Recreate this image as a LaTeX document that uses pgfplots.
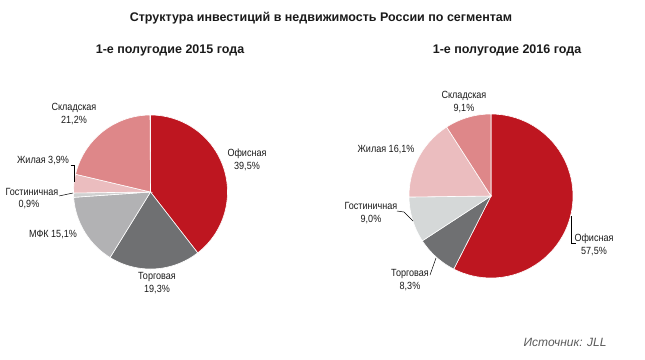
\documentclass[border=0pt]{standalone}
\usepackage{fontspec}
\setmainfont{Liberation Sans}
\newfontfamily\narrowf{Liberation Sans}[FakeStretch=0.87]
\usepackage{pgfplots}
\pgfplotsset{compat=1.18}
\definecolor{cOff}{HTML}{BE1620}
\definecolor{cTrd}{HTML}{6F7072}
\definecolor{cMfk}{HTML}{B2B2B4}
\definecolor{cHotA}{HTML}{D0D0D0}
\definecolor{cHotB}{HTML}{D5D8D8}
\definecolor{cRes}{HTML}{EBBDBF}
\definecolor{cWar}{HTML}{DE8789}
\definecolor{txt}{HTML}{1A1A1A}
% #1 cx, #2 cy, #3 r, #4 cumulative start (%), #5 share (%), #6 colour
\newcommand\slice[6]{%
  \addplot[fill=#6, draw=white, line width=0.6pt, domain={90-3.6*(#4+#5)}:{90-3.6*(#4)}, samples=60, variable=\t]
    ({#1+#3*cos(\t)},{#2-#3*sin(\t)}) -- (axis cs:#1,#2) -- cycle;}
\begin{document}
\begin{tikzpicture}[
  lbl/.style={font=\narrowf\fontsize{10.4}{11.5}\selectfont, text=txt, align=center, inner sep=0pt},
  ttl/.style={font=\bfseries\fontsize{12.5}{14}\selectfont, text=txt, inner sep=0pt}]
\begin{axis}[
  scale only axis, width=645pt, height=359pt,
  xmin=0, xmax=645, ymin=0, ymax=359, y dir=reverse,
  hide axis, clip=false,
]
\path (rel axis cs:0,0) rectangle (rel axis cs:1,1);
% ---- 2015 (shares in %)
\slice{150.5}{192}{77}{0}{39.5}{cOff}
\slice{150.5}{192}{77}{39.5}{19.3}{cTrd}
\slice{150.5}{192}{77}{58.8}{15.1}{cMfk}
\slice{150.5}{192}{77}{73.9}{0.9}{cHotA}
\slice{150.5}{192}{77}{74.8}{3.9}{cRes}
\slice{150.5}{192}{77}{78.7}{21.2}{cWar}
% ---- 2016
\slice{491}{196}{82}{0}{57.5}{cOff}
\slice{491}{196}{82}{57.5}{8.3}{cTrd}
\slice{491}{196}{82}{65.8}{9.0}{cHotB}
\slice{491}{196}{82}{74.8}{16.1}{cRes}
\slice{491}{196}{82}{90.9}{9.1}{cWar}
% leader lines
\addplot[black, line width=0.5pt] coordinates {(70.5,165) (74,165) (74,182)};
\addplot[black, line width=0.5pt] coordinates {(59,196) (73,193)};
\addplot[black, line width=0.5pt] coordinates {(397,211) (404,212) (413,221)};
\addplot[black, line width=0.5pt] coordinates {(430,275) (436,258)};
\addplot[black, line width=0.5pt] coordinates {(571.5,216) (571.5,243) (576,243)};
% titles
\node[ttl] at (axis cs:321,18) {Структура инвестиций в недвижимость России по сегментам};
\node[ttl] at (axis cs:170,50) {1-е полугодие 2015 года};
\node[ttl] at (axis cs:507,50) {1-е полугодие 2016 года};
% labels 2015
\node[lbl] at (axis cs:74,114) {Складская\\[1pt]21,2\%};
\node[lbl] at (axis cs:247,160) {Офисная\\[1pt]39,5\%};
\node[lbl] at (axis cs:43,161) {Жилая 3,9\%};
\node[lbl] at (axis cs:32,192) {Гостиничная};
\node[lbl] at (axis cs:29,205) {0,9\%};
\node[lbl] at (axis cs:53,235) {МФК 15,1\%};
\node[lbl] at (axis cs:157,283) {Торговая\\[1pt]19,3\%};
% labels 2016
\node[lbl] at (axis cs:464,102) {Складская\\[1pt]9,1\%};
\node[lbl] at (axis cs:386,150) {Жилая 16,1\%};
\node[lbl] at (axis cs:371,213) {Гостиничная\\[1pt]9,0\%};
\node[lbl] at (axis cs:410,280) {Торговая\\[1pt]8,3\%};
\node[lbl] at (axis cs:594,245) {Офисная\\[1pt]57,5\%};
\node[font=\itshape\fontsize{12}{13}\selectfont, text=black!65, inner sep=0pt] at (axis cs:565,342) {Источник: JLL};
\end{axis}
\end{tikzpicture}
\end{document}
